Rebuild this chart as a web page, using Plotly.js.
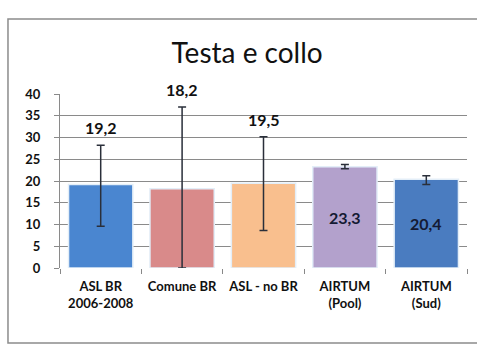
<!DOCTYPE html>
<html>
<head>
<meta charset="utf-8">
<script src="https://cdn.plot.ly/plotly-3.0.1.min.js"></script>
<style>html,body{margin:0;padding:0;background:#fff;}#chart{width:477px;height:347px;}</style>
</head>
<body>
<div id="chart"></div>
<script>
const categories = ["ASL BR<br>2006-2008", "Comune BR", "ASL - no BR", "AIRTUM<br>(Pool)", "AIRTUM<br>(Sud)"];
const values = [19.2, 18.2, 19.5, 23.3, 20.4];
const labels = ["19,2", "18,2", "19,5", "23,3", "20,4"];
const errPlus = [9.0, 18.8, 10.7, 0.5, 0.8];
const errMinus = [9.6, 18.2, 10.9, 0.5, 1.2];
const colors = ["#4a86d0", "#d98a8a", "#f9bf8e", "#b3a1cc", "#4a7cc0"];
const labelInside = [false, false, false, true, true];

const FONT = "Lato, 'Open Sans', sans-serif";

const trace = {
  type: "bar",
  x: categories,
  y: values,
  marker: {color: colors, line: {color: "#e3eef8", width: 1.5}},
  error_y: {
    type: "data", symmetric: false,
    array: errPlus, arrayminus: errMinus,
    color: "#2a2f3a", thickness: 1.5, width: 4
  },
  hoverinfo: "none"
};

const annotations = categories.map((c, i) => ({
  x: c,
  y: labelInside[i] ? values[i] / 2 : values[i] + errPlus[i],
  yanchor: labelInside[i] ? "middle" : "bottom",
  yshift: labelInside[i] ? 0 : 6,
  text: labels[i],
  showarrow: false,
  font: {family: FONT, size: 16, color: labelInside[i] ? "#141a33" : "#111", weight: "bold"}
}));

const layout = {
  width: 477, height: 347,
  margin: {l: 60, r: 10, t: 94, b: 79},
  paper_bgcolor: "#fff", plot_bgcolor: "#fff",
  title: {text: "Testa e collo", x: 0.518, xanchor: "center", y: 0.847, yanchor: "middle",
          font: {family: FONT, size: 28, color: "#111"}},
  bargap: 0.21,
  showlegend: false,
  xaxis: {
    type: "category",
    tickson: "boundaries",
    ticks: "outside", ticklen: 5, tickcolor: "#888", tickwidth: 1,
    showline: false, showgrid: false, zeroline: false,
    tickfont: {family: FONT, size: 13, color: "#111", weight: "bold"},
    ticklabelstandoff: 9
  },
  yaxis: {
    range: [0, 40], dtick: 5, tick0: 0,
    showgrid: true, gridcolor: "#8a8a8a", gridwidth: 1,
    showline: true, linecolor: "#8a8a8a", linewidth: 1,
    ticks: "outside", ticklen: 5, tickcolor: "#8a8a8a",
    zeroline: false,
    tickfont: {family: FONT, size: 13, color: "#111", weight: "bold"},
    ticklabelstandoff: 11
  },
  annotations: annotations,
  shapes: [{
    type: "rect", xref: "paper", yref: "paper",
    x0: -0.1278, x1: 1.05, y0: -0.431, y1: 1.431,
    line: {color: "#8c8c8c", width: 1.5}, fillcolor: "rgba(0,0,0,0)", layer: "below"
  }]
};

Plotly.newPlot("chart", [trace], layout, {staticPlot: true, displayModeBar: false});
</script>
</body>
</html>
